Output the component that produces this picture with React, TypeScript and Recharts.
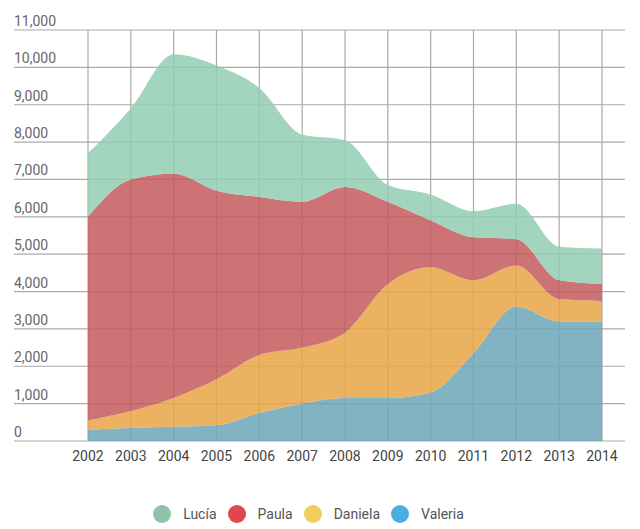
import { AreaChart, Area, XAxis, YAxis, CartesianGrid } from "recharts";

const years = ["2002", "2003", "2004", "2005", "2006", "2007", "2008", "2009", "2010", "2011", "2012", "2013", "2014"];
const valeria = [300, 350, 380, 420, 750, 1000, 1150, 1150, 1300, 2350, 3600, 3200, 3200];
const daniela = [250, 450, 770, 1230, 1550, 1500, 1750, 3050, 3350, 1950, 1100, 600, 550];
const paula = [5450, 6200, 6000, 5050, 4230, 3900, 3900, 2200, 1250, 1150, 700, 500, 450];
const lucia = [1700, 1900, 3200, 3350, 2920, 1800, 1250, 450, 700, 700, 950, 900, 950];
const yTicks = [0, 1000, 2000, 3000, 4000, 5000, 6000, 7000, 8000, 9000, 10000, 11000];

const series = [
  { key: "valeria", name: "Valeria", fill: "#6ca6b8", dot: "#4aaee0" },
  { key: "daniela", name: "Daniela", fill: "#e7a447", dot: "#f2cd5c" },
  { key: "paula", name: "Paula", fill: "#c45a5d", dot: "#e0474c" },
  { key: "lucia", name: "Lucía", fill: "#93ccb1", dot: "#8dc3a7" },
];

const data = years.map((year, i) => ({
  year,
  valeria: valeria[i],
  daniela: daniela[i],
  paula: paula[i],
  lucia: lucia[i],
}));

const font = "Roboto, 'Noto Sans', sans-serif";
const padLeft = 74;
const padRight = 23;

const renderYTick = (props: any) => {
  const { y, payload } = props;
  return (
    <text key={payload.value} x={14} y={y - 4} fill="#666" fontSize={14} fontFamily={font} textAnchor="start">
      {Number(payload.value).toLocaleString("en-US")}
    </text>
  );
};

// vertical grid only at the year positions (same spacing as the point scale)
const yearLines = ({ offset }: any) => {
  const start = offset.left + padLeft;
  const step = (offset.width - padLeft - padRight) / (years.length - 1);
  return years.map((_, i) => start + i * step);
};

export default function App() {
  const legendItems = [...series].reverse();
  return (
    <div style={{ position: "absolute", left: 0, top: 0, width: 640, height: 529, background: "#fff" }}>
      <AreaChart width={640} height={470} data={data} margin={{ top: 30, right: 15, left: 13, bottom: 0 }}>
        <CartesianGrid stroke="#aaa" strokeWidth={1.2} verticalCoordinatesGenerator={yearLines} />
        <XAxis
          dataKey="year"
          padding={{ left: padLeft, right: padRight }}
          axisLine={false}
          tickLine={false}
          height={29}
          tickMargin={4}
          tick={{ fill: "#444", fontSize: 14, fontFamily: font }}
          interval={0}
        />
        <YAxis
          domain={[0, 11000]}
          ticks={yTicks}
          width={1}
          axisLine={false}
          tickLine={false}
          tick={renderYTick}
          interval={0}
        />
        {series.map((s) => (
          <Area
            key={s.key}
            dataKey={s.key}
            name={s.name}
            stackId="1"
            type="monotone"
            stroke="none"
            fill={s.fill}
            fillOpacity={0.85}
            isAnimationActive={false}
          />
        ))}
      </AreaChart>
      <div
        style={{
          position: "absolute",
          top: 505,
          left: 0,
          width: 617,
          display: "flex",
          justifyContent: "center",
          alignItems: "center",
          fontFamily: font,
          fontSize: 14,
          color: "#555",
        }}
      >
        {legendItems.map((s) => (
          <div key={s.key} style={{ display: "flex", alignItems: "center", margin: "0 5.5px" }}>
            <span
              style={{ width: 18, height: 18, borderRadius: 9, background: s.dot, display: "inline-block", marginRight: 12 }}
            />
            <span>{s.name}</span>
          </div>
        ))}
      </div>
    </div>
  );
}
